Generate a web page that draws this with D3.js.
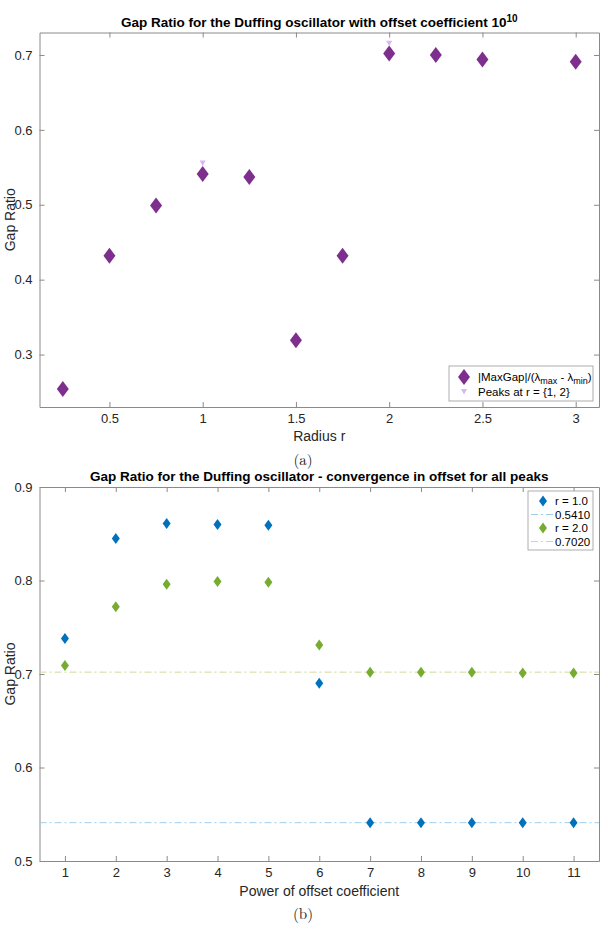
<!DOCTYPE html>
<html>
<head>
<meta charset="utf-8">
<script src="https://cdn.jsdelivr.net/npm/d3@7"></script>
<style>
  body { margin: 0; background: #fff; }
  svg { display: block; font-family: "Liberation Sans", Arial, sans-serif; }
  .tick text { fill: #262626; font-size: 13px; }
  .tick line, .domain { stroke: #8a8a8a; }
</style>
</head>
<body>
<svg id="fig" width="608" height="930"></svg>
<script>
"use strict";

// panel (a): gap ratio vs radius
var radius = [0.25, 0.5, 0.75, 1, 1.25, 1.5, 1.75, 2, 2.25, 2.5, 3];
var gapRatio = [0.254, 0.432, 0.499, 0.541, 0.537, 0.319, 0.432, 0.702, 0.700, 0.694, 0.691];
var peakR = [1, 2];
var peakGap = [0.555, 0.715];
var radiusTicks = [0.5, 1, 1.5, 2, 2.5, 3];
var ratioTicksA = [0.3, 0.4, 0.5, 0.6, 0.7];

// panel (b): convergence in offset
var powers = [1, 2, 3, 4, 5, 6, 7, 8, 9, 10, 11];
var gapR1 = [0.738, 0.845, 0.861, 0.860, 0.859, 0.690, 0.541, 0.541, 0.541, 0.541, 0.541];
var gapR2 = [0.709, 0.772, 0.796, 0.799, 0.798, 0.731, 0.702, 0.702, 0.702, 0.701, 0.701];
var refLevels = [0.5410, 0.7020];
var ratioTicksB = [0.5, 0.6, 0.7, 0.8, 0.9];

var purple = "#7e2f8e", lavender = "#d6b6f7";
var blue = "#0072bd", green = "#77ac30";
var refColors = ["#9fcdee", "#d3d99a"];
var dashDot = "7,3,2,3";

var svg = d3.select("#fig");

function diamond(w, h) {
  return "M0," + (-h / 2) + "L" + (w / 2) + ",0L0," + (h / 2) + "L" + (-w / 2) + ",0Z";
}

//Draws the box, ticks on all four sides and labels
function frame(x, y, xTicks, yTicks, xFmt, yFmt) {
  var g = svg.append("g");
  var x0 = x.range()[0], x1 = x.range()[1], y0 = y.range()[0], y1 = y.range()[1];
  g.append("g").attr("transform", "translate(0," + y0 + ")")
    .call(d3.axisBottom(x).tickValues(xTicks).tickSizeInner(-5).tickSizeOuter(0).tickPadding(7).tickFormat(xFmt));
  g.append("g").attr("transform", "translate(0," + y1 + ")")
    .call(d3.axisTop(x).tickValues(xTicks).tickSizeInner(-5).tickSizeOuter(0).tickFormat(""));
  g.append("g").attr("transform", "translate(" + x0 + ",0)")
    .call(d3.axisLeft(y).tickValues(yTicks).tickSizeInner(-5).tickSizeOuter(0).tickPadding(7).tickFormat(yFmt));
  g.append("g").attr("transform", "translate(" + x1 + ",0)")
    .call(d3.axisRight(y).tickValues(yTicks).tickSizeInner(-5).tickSizeOuter(0).tickFormat(""));
  return g;
}

function caption(cx, yy, t) {
  svg.append("text").attr("x", cx).attr("y", yy).attr("text-anchor", "middle")
    .style("font-family", "'Latin Modern Roman','DejaVu Serif','Liberation Serif',serif")
    .style("font-size", "15px").attr("fill", "#222").text(t);
}

function ylabel(cy, t) {
  svg.append("text").attr("transform", "translate(15," + cy + ") rotate(-90)")
    .attr("text-anchor", "middle").attr("fill", "#262626").style("font-size", "14px").text(t);
}

// ---------- panel (a)
var xa = d3.scaleLinear().domain([0.125, 3.125]).range([39.5, 599]);
var ya = d3.scaleLinear().domain([0.23, 0.73]).range([407, 32.5]);
frame(xa, ya, radiusTicks, ratioTicksA, d3.format("~g"), d3.format(".1f"));

var ta = svg.append("text").attr("x", (39.5 + 599) / 2).attr("y", 27).attr("text-anchor", "middle")
  .attr("fill", "#000").style("font-weight", "bold").style("font-size", "13.5px");
ta.append("tspan").text("Gap Ratio for the Duffing oscillator with offset coefficient 10");
ta.append("tspan").attr("dy", -5).style("font-size", "10px").text("10");

svg.append("text").attr("x", (39.5 + 599) / 2).attr("y", 441).attr("text-anchor", "middle")
  .attr("fill", "#262626").style("font-size", "14px").text("Radius r");
ylabel((407 + 32.5) / 2, "Gap Ratio");
caption(303, 465, "(a)");

svg.append("g").selectAll("path").data(radius).join("path")
  .attr("d", diamond(12, 16))
  .attr("transform", function (d, i) { return "translate(" + xa(d) + "," + ya(gapRatio[i]) + ")"; })
  .attr("fill", purple);

svg.append("g").selectAll("path").data(peakR).join("path")
  .attr("d", "M-3,-3L3,-3L0,2.5Z")
  .attr("transform", function (d, i) { return "translate(" + xa(d) + "," + ya(peakGap[i]) + ")"; })
  .attr("fill", lavender);

//Legend (a)
var la = svg.append("g").attr("transform", "translate(449,366)");
la.append("rect").attr("width", 144).attr("height", 35).attr("fill", "#fff").attr("stroke", "#9a9a9a").attr("stroke-width", 0.8);
la.append("path").attr("d", diamond(12, 16)).attr("transform", "translate(15,11)").attr("fill", purple);
la.append("path").attr("d", "M-3,-3L3,-3L0,2.5Z").attr("transform", "translate(15,26)").attr("fill", lavender);
var l1 = la.append("text").attr("x", 29).attr("y", 14.5).attr("fill", "#000").style("font-size", "11.5px");
l1.append("tspan").text("|MaxGap|/(\u03bb");
l1.append("tspan").attr("dy", 3.5).style("font-size", "9px").text("max");
l1.append("tspan").attr("dy", -3.5).text(" - \u03bb");
l1.append("tspan").attr("dy", 3.5).style("font-size", "9px").text("min");
l1.append("tspan").attr("dy", -3.5).text(")");
la.append("text").attr("x", 29).attr("y", 30).attr("fill", "#000").style("font-size", "11.5px").text("Peaks at r = {1, 2}");

// ---------- panel (b)
var xb = d3.scaleLinear().domain([0.5, 11.5]).range([39.5, 599]);
var yb = d3.scaleLinear().domain([0.5, 0.9]).range([861, 487]);
frame(xb, yb, powers, ratioTicksB, d3.format("d"), d3.format(".1f"));

svg.append("text").attr("x", (39.5 + 599) / 2).attr("y", 481).attr("text-anchor", "middle")
  .attr("fill", "#000").style("font-weight", "bold").style("font-size", "13.5px")
  .text("Gap Ratio for the Duffing oscillator - convergence in offset for all peaks");
svg.append("text").attr("x", (39.5 + 599) / 2).attr("y", 896).attr("text-anchor", "middle")
  .attr("fill", "#262626").style("font-size", "14px").text("Power of offset coefficient");
ylabel((861 + 487) / 2, "Gap Ratio");
caption(303, 919, "(b)");

svg.append("g").selectAll("line").data(refLevels).join("line")
  .attr("x1", xb.range()[0]).attr("x2", xb.range()[1])
  .attr("y1", function (d) { return yb(d); }).attr("y2", function (d) { return yb(d); })
  .attr("stroke", function (d, i) { return refColors[i]; })
  .attr("stroke-width", 1).attr("stroke-dasharray", dashDot);

[[gapR1, blue], [gapR2, green]].forEach(function (s) {
  svg.append("g").selectAll("path").data(powers).join("path")
    .attr("d", diamond(8, 11))
    .attr("transform", function (d, i) { return "translate(" + xb(d) + "," + yb(s[0][i]) + ")"; })
    .attr("fill", s[1]);
});

//Legend (b)
var lb = svg.append("g").attr("transform", "translate(528,491)");
lb.append("rect").attr("width", 65).attr("height", 59).attr("fill", "#fff").attr("stroke", "#9a9a9a").attr("stroke-width", 0.8);
var rows = [
  { t: "r = 1.0", c: blue, m: true },
  { t: "0.5410", c: refColors[0], m: false },
  { t: "r = 2.0", c: green, m: true },
  { t: "0.7020", c: refColors[1], m: false }
];
rows.forEach(function (r, i) {
  var yy = 10 + i * 13.5;
  if (r.m) {
    lb.append("path").attr("d", diamond(8, 11)).attr("transform", "translate(15," + yy + ")").attr("fill", r.c);
  } else {
    lb.append("line").attr("x1", 3).attr("x2", 26).attr("y1", yy).attr("y2", yy)
      .attr("stroke", r.c).attr("stroke-dasharray", dashDot);
  }
  lb.append("text").attr("x", 27).attr("y", yy + 4).attr("fill", "#000").style("font-size", "11.5px").text(r.t);
});
</script>
</body>
</html>
